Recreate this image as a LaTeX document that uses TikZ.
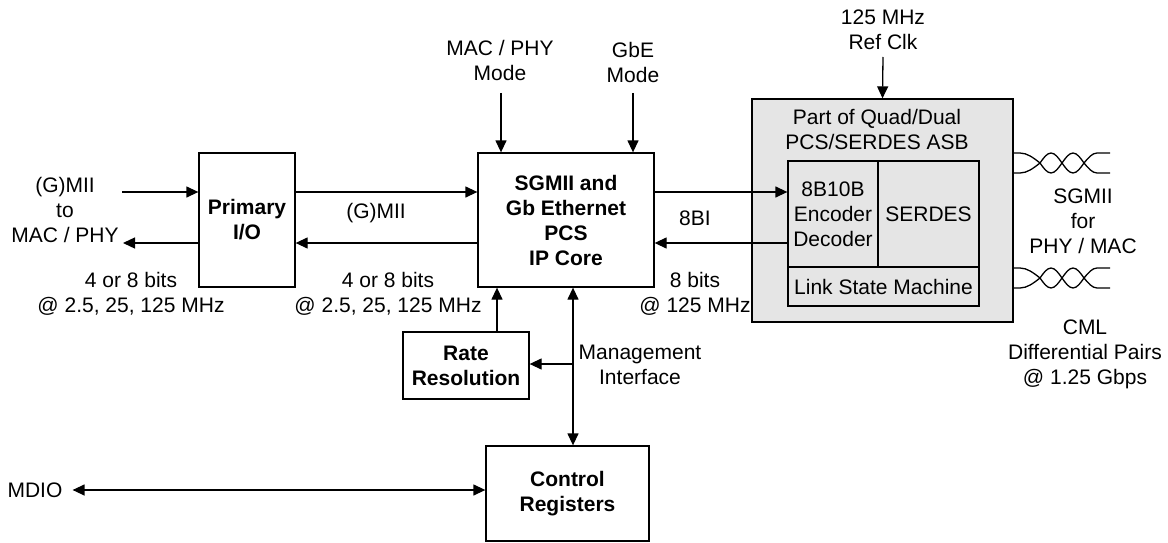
\documentclass[tikz,border=0pt]{standalone}
\usepackage{fontspec}
\setmainfont{Liberation Sans}
\usetikzlibrary{arrows.meta}
\definecolor{asbgray}{gray}{0.9}
\begin{document}
\begin{tikzpicture}[x=1pt,y=-1pt,
  font=\fontsize{21}{25}\selectfont,
  box/.style={draw, line width=1.3pt, inner sep=0pt, align=center},
  lbl/.style={inner sep=0pt, align=center},
  wire/.style={line width=1.3pt},
  arr/.style={wire, -{Triangle[length=12pt,width=11pt]}},
  arrboth/.style={wire, {Triangle[length=12pt,width=11pt]}-{Triangle[length=12pt,width=11pt]}},
  twisted/.pic={
    \draw[wire] (0,0) -- (7,0) cos (27,10) sin (38,20) cos (49,10) sin (60,0) cos (71,10) sin (84,20) -- (97,20);
    \draw[wire] (0,20) -- (7,20) cos (27,10) sin (38,0) cos (49,10) sin (60,20) cos (71,10) sin (84,0) -- (97,0);
  }]
\useasboundingbox (0,0) rectangle (1168,543);

% boxes
\node[box, font=\fontsize{21}{25}\selectfont\bfseries, minimum width=96pt, minimum height=134pt] (pio) at (247,220) {Primary\\I/O};
\node[box, font=\fontsize{21}{25}\selectfont\bfseries, minimum width=176pt, minimum height=134pt] (core) at (566,220) {SGMII and\\Gb Ethernet\\PCS\\IP Core};
\node[box, font=\fontsize{21}{25}\selectfont\bfseries, minimum width=126pt, minimum height=67pt] (rate) at (466,365.5) {Rate\\Resolution};
\node[box, font=\fontsize{21}{25}\selectfont\bfseries, minimum width=163pt, minimum height=95pt] (ctrl) at (567.5,493.5) {Control\\Registers};

\node[box, fill=asbgray, minimum width=261pt, minimum height=223pt] (asb) at (882.5,210.5) {};
\node[lbl] (asbt) at (877,129.5) {Part of Quad/Dual\\PCS/SERDES ASB};
\node[box, minimum width=90pt, minimum height=106pt] (enc) at (833,214) {8B10B\\Encoder\\Decoder};
\node[box, minimum width=101pt, minimum height=106pt] (serdes) at (928.5,214) {SERDES};
\node[box, minimum width=191pt, minimum height=39pt] (lsm) at (883.5,286.5) {Link State Machine};

% labels
\node[lbl] (gmiil) at (65,210) {(G)MII\\to\\MAC / PHY};
\node[lbl] (bitsl) at (131,294) {4 or 8 bits\\@ 2.5, 25, 125 MHz};
\node[lbl] (gmiim) at (376,213) {(G)MII};
\node[lbl] (bitsm) at (388,294) {4 or 8 bits\\@ 2.5, 25, 125 MHz};
\node[lbl] (ebi) at (695,218) {8BI};
\node[lbl] (bitsr) at (695,294) {8 bits\\@ 125 MHz};
\node[lbl] (macmode) at (500,60) {MAC / PHY\\Mode};
\node[lbl] (gbemode) at (633,62) {GbE\\Mode};
\node[lbl] (refclk) at (883,30) {125 MHz\\Ref Clk};
\node[lbl] (mgmt) at (640,365) {Management\\Interface};
\node[lbl] (sgmiit) at (1083,221) {SGMII\\for\\PHY / MAC};
\node[lbl] (cmlt) at (1085,354) {CML\\Differential Pairs\\@ 1.25 Gbps};
\node[lbl] (mdio) at (35,490) {MDIO};

% helper coordinates
\coordinate (yA) at (0,192);
\coordinate (yB) at (0,243);
\coordinate (gin) at (122,192);
\coordinate (gout) at (123,243);
\coordinate (mm) at (501,93);
\coordinate (gm) at (633,93);
\coordinate (rc) at (883,57);
\coordinate (rx) at (497,0);
\coordinate (mx) at (573,0);
\coordinate (mj) at (573,364);

% connectors
\draw[arr] (gin) -- (pio.west |- gin);
\draw[arr] (pio.west |- gout) -- (gout);
\draw[arr] (pio.east |- yA) -- (core.west |- yA);
\draw[arr] (core.west |- yB) -- (pio.east |- yB);
\draw[arr] (core.east |- yA) -- (enc.west |- yA);
\draw[arr] (enc.west |- yB) -- (core.east |- yB);
\draw[arr] (mm) -- (mm |- core.north);
\draw[arr] (gm) -- (gm |- core.north);
\draw[arr] (rc) -- (asb.north);
\draw[arr] (rate.north -| rx) -- (core.south -| rx);
\draw[arrboth] (core.south -| mx) -- (ctrl.north -| mx);
\draw[arr] (mj) -- (rate.east |- mj);
\draw[arrboth, shorten <=10pt] (mdio.east) -- (ctrl.west |- mdio.east);

% twisted pairs
\pic at (1013,153) {twisted};
\pic at (1013,268) {twisted};
\end{tikzpicture}
\end{document}
